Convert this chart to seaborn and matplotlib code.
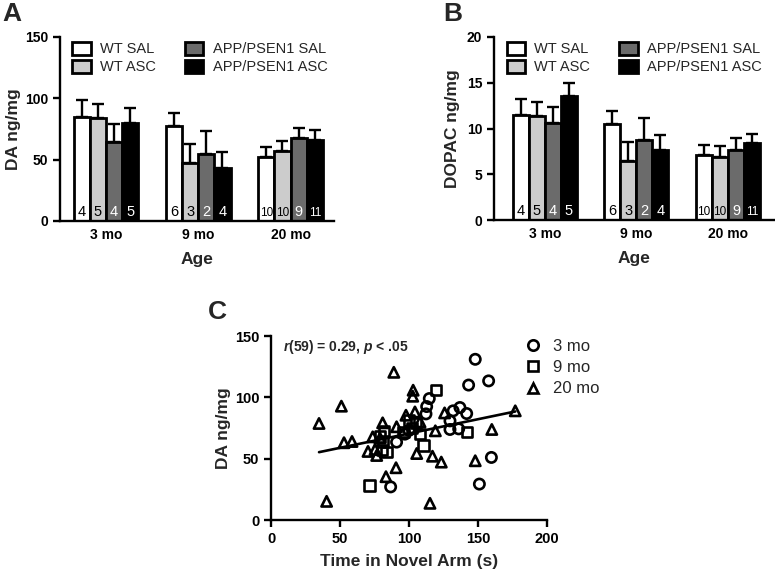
import numpy as np
import pandas as pd
import matplotlib
matplotlib.use("Agg")
import matplotlib.pyplot as plt
import seaborn as sns
from matplotlib.patches import Patch
from matplotlib.lines import Line2D

# ---- data -------------------------------------------------------------
ages = ["3 mo", "9 mo", "20 mo"]
groups = ["WT SAL", "WT ASC", "APP/PSEN1 SAL", "APP/PSEN1 ASC"]
group_colors = ["#ffffff", "#cccccc", "#6b6b6b", "#000000"]
n_text_colors = ["black", "black", "white", "white"]

# rows = group, columns = age
n_animals = [[4, 6, 10], [5, 3, 10], [4, 2, 9], [5, 4, 11]]

da_mean = [[85.0, 77.4, 51.9], [83.7, 47.0, 57.0], [64.6, 54.6, 67.4], [80.0, 43.4, 66.3]]
da_sem = [[14.0, 11.0, 8.4], [11.6, 15.8, 8.4], [14.2, 19.0, 8.6], [11.8, 13.1, 8.1]]

dopac_mean = [[11.5, 10.5, 7.08], [11.4, 6.5, 6.93], [10.65, 8.7, 7.67], [13.5, 7.6, 8.4]]
dopac_sem = [[1.75, 1.4, 1.1], [1.5, 2.04, 1.14], [1.7, 2.47, 1.27], [1.5, 1.67, 0.98]]

# scatter: time in novel arm (s) vs DA ng/mg
time_3mo = [148, 143.2, 157.7, 114.7, 112.8, 112.3, 132, 136.9, 141.8, 129.7,
            129.7, 136, 91, 86.7, 159.7, 151, 100, 97]
da_3mo = [131, 110, 113.4, 99, 92.5, 86.5, 89, 91.7, 86.8, 80.8,
          73.8, 74.3, 63.5, 27, 51, 29.3, 73, 70]
time_9mo = [119.6, 71.3, 110.4, 141.8, 81.9, 81.2, 80.2, 83.8, 102, 105,
            100, 79, 96, 108]
da_9mo = [105.8, 28.2, 60.8, 72, 72.7, 63.7, 57, 55.6, 75, 79,
          81, 68, 72, 70]
time_20mo = [34.8, 40.3, 51, 52.9, 58.7, 89, 73.7, 70.3, 76.6, 80.9,
             83.3, 90.6, 91, 97.8, 103, 102.7, 104.3, 105.6, 108, 117,
             115.2, 119.1, 123.4, 125.8, 148, 160, 177, 79, 75.4]
da_20mo = [78.7, 15.2, 92.8, 63, 64, 120.4, 67.8, 55.9, 52.6, 79.2,
           35.3, 42.6, 76, 85.4, 105.8, 100.9, 88.1, 54.2, 80, 52,
           13.6, 72.7, 47.2, 87.3, 48.3, 73.8, 89, 66.7, 57.5]
age_markers = {"3 mo": "o", "9 mo": "s", "20 mo": "^"}

# ---- style ------------------------------------------------------------
sns.set_style("ticks")
plt.rcParams["font.family"] = ["Liberation Sans", "DejaVu Sans"]
plt.rcParams["mathtext.fontset"] = "custom"
plt.rcParams["mathtext.it"] = "Liberation Sans:italic:bold"
plt.rcParams["mathtext.rm"] = "Liberation Sans:bold"

LW = 1.7


def style_axes(ax):
    sns.despine(ax=ax)
    for side in ("left", "bottom"):
        ax.spines[side].set_linewidth(LW)
        ax.spines[side].set_color("black")
    ax.tick_params(axis="both", colors="black", width=LW, length=5, direction="out")


def bar_panel(ax, means, sems, ylabel, ymax, step, xlim, n_y, ylabelpad):
    df = pd.DataFrame({
        "age": np.tile(ages, len(groups)),
        "group": np.repeat(groups, len(ages)),
        "value": np.ravel(means),
    })
    sns.barplot(data=df, x="age", y="value", hue="group", order=ages,
                hue_order=groups, palette=group_colors, edgecolor="black",
                linewidth=2.0, width=0.7, errorbar=None, saturation=1,
                legend=False, ax=ax)

    # upper-only error bars and n labels
    bar_containers = list(ax.containers)
    for gi, cont in enumerate(bar_containers):
        for ai, bar in enumerate(cont):
            xc = bar.get_x() + bar.get_width() / 2
            h = bar.get_height()
            ax.errorbar(xc, h, yerr=[[0], [sems[gi][ai]]], fmt="none",
                        ecolor="black", elinewidth=LW, capsize=4.5,
                        capthick=LW, zorder=1)
            n = n_animals[gi][ai]
            ax.text(xc, n_y, str(n), ha="center", va="bottom",
                    fontsize=10.5 if n < 10 else 8.5, color=n_text_colors[gi],
                    zorder=5)

    style_axes(ax)
    ax.tick_params(axis="x", length=0, pad=5)
    ax.set_ylim(0, ymax)
    ax.set_yticks(np.arange(0, ymax + 0.1, step))
    ax.set_xlim(*xlim)
    for lab in ax.get_xticklabels() + ax.get_yticklabels():
        lab.set_fontweight("bold")
        lab.set_fontsize(10)
    ax.set_xlabel("Age", fontsize=12.5, fontweight="bold", labelpad=7)
    ax.set_ylabel(ylabel, fontsize=12.5, fontweight="bold", labelpad=ylabelpad)

    handles = [Patch(facecolor=c, edgecolor="black", linewidth=2.0)
               for c in group_colors]
    ax.legend(handles, groups, ncol=2,
              loc="upper left", bbox_to_anchor=(0.045, 0.975), frameon=False,
              fontsize=10.5, handlelength=1.25, handleheight=1.0,
              handletextpad=0.65, columnspacing=2.0, labelspacing=0.25,
              borderpad=0, borderaxespad=0)


fig = plt.figure(figsize=(7.75, 5.76), dpi=100)
ax_a = fig.add_axes([60 / 775, 1 - 221 / 576, 274 / 775, 184 / 576])
ax_b = fig.add_axes([494 / 775, 1 - 220 / 576, 281 / 775, 183 / 576])
ax_c = fig.add_axes([271 / 775, 1 - 520 / 576, 276 / 775, 184 / 576])

bar_panel(ax_a, da_mean, da_sem, "DA ng/mg", 150, 50, (-0.497, 2.471), 1.5, 3)
bar_panel(ax_b, dopac_mean, dopac_sem, "DOPAC ng/mg", 20, 5, (-0.557, 2.514), 0.2, 5)

# ---- panel C ----------------------------------------------------------
df_c = pd.DataFrame({
    "time": time_3mo + time_9mo + time_20mo,
    "da": da_3mo + da_9mo + da_20mo,
    "age": ["3 mo"] * len(time_3mo) + ["9 mo"] * len(time_9mo)
           + ["20 mo"] * len(time_20mo),
})
sns.regplot(data=df_c, x="time", y="da", scatter=False, ci=None,
            color="black", line_kws={"linewidth": 1.9}, ax=ax_c)
sns.scatterplot(data=df_c, x="time", y="da", style="age", markers=age_markers,
                style_order=ages, s=55, facecolor="none", edgecolor="black",
                linewidth=1.9, legend=False, ax=ax_c, zorder=3)

style_axes(ax_c)
ax_c.set_xlim(0, 200)
ax_c.set_ylim(0, 150)
ax_c.set_xticks([0, 50, 100, 150, 200])
ax_c.set_yticks([0, 50, 100, 150])
for lab in ax_c.get_xticklabels() + ax_c.get_yticklabels():
    lab.set_fontweight("bold")
    lab.set_fontsize(10.5)
ax_c.set_xlabel("Time in Novel Arm (s)", fontsize=12.5, fontweight="bold", labelpad=6)
ax_c.set_ylabel("DA ng/mg", fontsize=12.5, fontweight="bold", labelpad=3)
ax_c.text(8.5, 141, r"$r$(59) = 0.29, $p$ < .05", fontsize=10, fontweight="bold",
          va="center", ha="left")

c_handles = [Line2D([], [], linestyle="none", marker=age_markers[a], markersize=7.5,
                    markerfacecolor="none", markeredgecolor="black",
                    markeredgewidth=1.9) for a in ages]
ax_c.legend(c_handles, ages, loc="upper left", bbox_to_anchor=(0.92, 0.985),
            frameon=False, fontsize=12, handlelength=1.0, handletextpad=0.7,
            labelspacing=0.38, borderpad=0, borderaxespad=0)

# panel letters
fig.text(2 / 775, 1 - 2 / 576, "A", fontsize=19, fontweight="bold", va="top")
fig.text(443 / 775, 1 - 2 / 576, "B", fontsize=19, fontweight="bold", va="top")
fig.text(208 / 775, 1 - 300 / 576, "C", fontsize=19, fontweight="bold", va="top")

fig.savefig("out.png", dpi=100)
